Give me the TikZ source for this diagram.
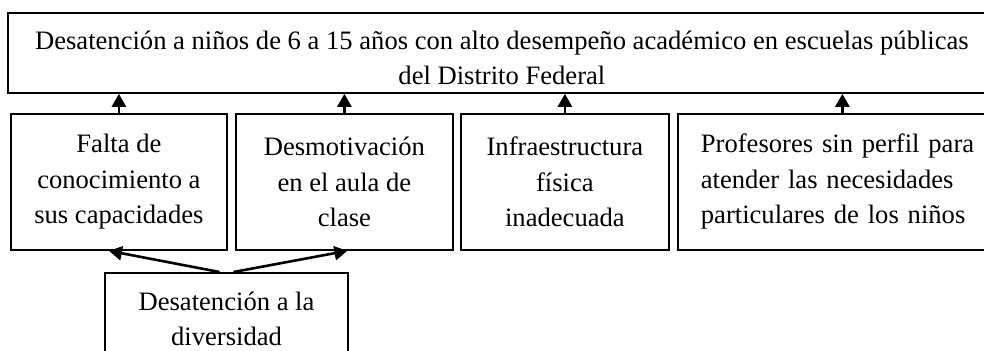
\documentclass[tikz,border=0pt]{standalone}
\usepackage{fontspec}
\setmainfont{Liberation Serif}
\usepackage{tikz}
\usetikzlibrary{arrows.meta, positioning, calc}

\begin{document}
\begin{tikzpicture}[x=0.5pt,y=-0.5pt,>={Triangle[length=6.5pt,width=7pt]},
            caja/.style={draw, line width=0.9pt, inner sep=0pt, anchor=north west,
                font=\fontsize{13.3}{17.75}\selectfont, align=center},
            flecha/.style={->, line width=1.3pt}]
            \useasboundingbox (0,0) rectangle (984,350);

            \node[caja, minimum width=494pt, minimum height=40pt] (problema) at (7,12)
                {\rule{0pt}{14pt}Desatención a niños de 6 a 15 años con alto desempeño académico en escuelas públicas\\del Distrito Federal};
            \node[caja, minimum width=108pt, minimum height=68pt] (falta) at (10,113)
                {Falta de\\conocimiento a\\sus capacidades};
            \node[caja, minimum width=108.5pt, minimum height=68pt] (desmo) at (235,113)
                {Desmotivación\\en el aula de\\clase};
            \node[caja, minimum width=104pt, minimum height=68pt] (infra) at (460,113)
                {Infraestructura\\física\\inadecuada};
            \node[caja, text width=141.5pt, inner xsep=11.5pt, minimum height=68pt, align=left] (profe) at (677,113)
                {Profesores sin perfil para\\atender las necesidades\\particulares de los niños};
            \node[caja, minimum width=121.5pt, minimum height=46pt, anchor=north] (diver) at (226.5,272)
                {Desatención a la\\diversidad};

            \foreach \c in {falta, desmo, infra, profe}
                \draw[flecha] (\c.north) -- (\c.north |- problema.south);
            \draw[flecha] ([xshift=-3.5pt]diver.north) -- ([xshift=-5pt]falta.south);
            \draw[flecha] ([xshift=3.5pt]diver.north) -- ([xshift=1.5pt]desmo.south);
        \end{tikzpicture}
\end{document}
